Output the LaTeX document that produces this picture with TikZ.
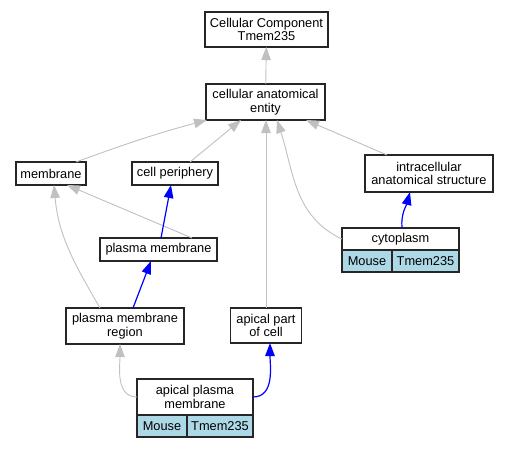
\documentclass[tikz,border=0pt]{standalone}
\usepackage{fontspec}
\setmainfont{Liberation Sans}
\usetikzlibrary{arrows.meta}
\usetikzlibrary{positioning}
\definecolor{edgegray}{HTML}{C0C0C0}
\definecolor{cellblue}{HTML}{ADD8E6}

\begin{document}
\begin{tikzpicture}[x=1pt, y=-1pt, >={Triangle[length=13pt,width=9.5pt]}, auto]
            \tikzstyle{term}=[draw=black!85, line width=1.2pt, fill=white, align=center, inner sep=0pt, outer sep=0pt, font=\fontsize{12.8}{13.5}\selectfont]
            \tikzstyle{org}=[term, fill=cellblue, minimum height=22pt]
            \tikzstyle{isa}=[->, draw=edgegray, line width=0.9pt]
            \tikzstyle{partof}=[->, draw=blue, line width=1.2pt]

            \useasboundingbox (0,0) rectangle (509,448);

            \node[term, minimum width=123pt, minimum height=35pt] (cc)   at (266.5,29.5) {Cellular Component\\Tmem235};
            \node[term, minimum width=119pt, minimum height=36pt] (cae)  at (265.5,102)  {cellular anatomical\\entity};
            \node[term, minimum width=70pt,  minimum height=23pt] (mem)  at (51,173.5)   {membrane};
            \node[term, minimum width=86pt,  minimum height=23pt] (cper) at (175,173.5)  {cell periphery};
            \node[term, minimum width=128pt, minimum height=37pt] (ias)  at (429,173.5)  {intracellular\\anatomical structure};
            \node[term, minimum width=117pt, minimum height=23pt] (pm)   at (158.5,249.5) {plasma membrane};
            \node[term, minimum width=117pt, minimum height=22pt] (cyto) at (400.5,239)  {cytoplasm};
            \node[org, minimum width=50pt] (cytom) [below right=0pt and 0pt of cyto.south west] {Mouse};
            \node[org, minimum width=67pt] (cytog) [right=0pt of cytom] {Tmem235};
            \node[term, minimum width=118pt, minimum height=36pt] (pmr)  at (125,326)    {plasma membrane\\region};
            \node[term, minimum width=71pt,  minimum height=35pt] (apc)  at (266,325.5)  {apical part\\of cell};
            \node[term, minimum width=116pt, minimum height=36pt] (apm)  at (195,397)    {apical plasma\\membrane};
            \node[org, minimum width=50pt] (apmm) [below right=0pt and 0pt of apm.south west] {Mouse};
            \node[org, minimum width=66pt] (apmg) [right=0pt of apmm] {Tmem235};

            % is_a
            \draw[isa] (cae) -- (cc);
            \draw[isa] ([xshift=25pt]mem.north) to[out=20, in=195] ([xshift=1pt]cae.south west);
            \draw[isa] ([xshift=15pt]cper.north) -- ([xshift=-24.5pt]cae.south);
            \draw[isa] (apc.north) -- (apc.north |- cae.south);
            \draw[isa] (cyto.west) to[out=155, in=-72] ([xshift=11.5pt]cae.south);
            \draw[isa] ([xshift=-42pt]ias.north) -- ([xshift=40.5pt]cae.south);
            \draw[isa] ([xshift=33.5pt]pm.north) -- ([xshift=16pt]mem.south);
            \draw[isa] ([xshift=-25pt]pmr.north) to[out=120, in=-85] ([xshift=3pt]mem.south);
            \draw[isa] (apm.west) to[out=180, in=-90] ([xshift=-5pt]pmr.south);

            % part_of
            \draw[partof] ([xshift=2.5pt]pm.north) -- ([xshift=-4pt]cper.south);
            \draw[partof] ([xshift=8pt]pmr.north) -- ([xshift=-7.5pt]pm.south);
            \draw[partof] (apm.east) to[out=0, in=-90] ([xshift=4pt]apc.south);
            \draw[partof] ([xshift=1.5pt]cyto.north) to[out=95, in=-105] ([xshift=-19pt]ias.south);
          \end{tikzpicture}
\end{document}
